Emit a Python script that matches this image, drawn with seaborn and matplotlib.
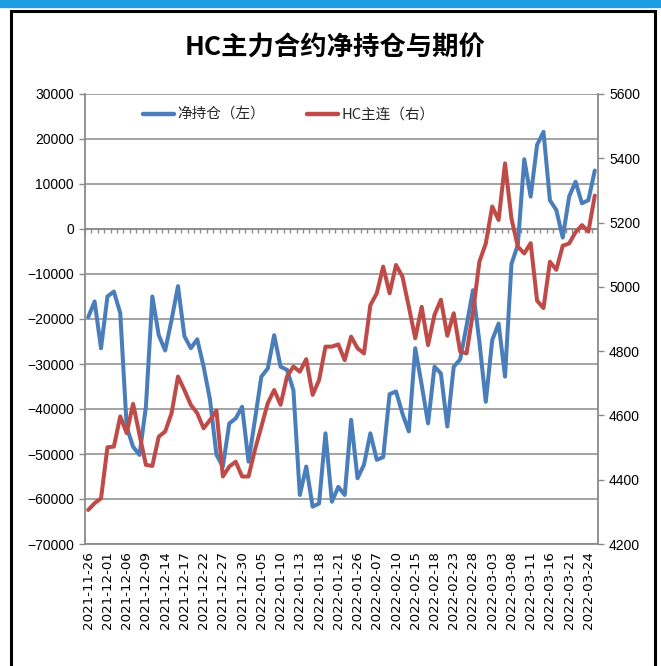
import numpy as np
import pandas as pd
import seaborn as sns
import matplotlib.pyplot as plt
from matplotlib.patches import Rectangle
from matplotlib.lines import Line2D

# ---- data ----
date_labels = ["2021-11-26", "2021-12-01", "2021-12-06", "2021-12-09", "2021-12-14",
               "2021-12-17", "2021-12-22", "2021-12-27", "2021-12-30", "2022-01-05",
               "2022-01-10", "2022-01-13", "2022-01-18", "2022-01-21", "2022-01-26",
               "2022-02-07", "2022-02-10", "2022-02-15", "2022-02-18", "2022-02-23",
               "2022-02-28", "2022-03-03", "2022-03-08", "2022-03-11", "2022-03-16",
               "2022-03-21", "2022-03-24"]

# net position (left axis)
net_pos = [-19600, -16100, -26500, -15000, -13900, -18700, -44000, -48400, -50200, -39500,
           -15000, -23600, -27000, -20200, -12700, -23800, -26500, -24500, -30600, -38000,
           -50200, -52800, -43200, -42100, -39500, -51700, -42400, -32800, -31000, -23600,
           -30600, -31300, -35800, -59100, -52800, -61700, -61000, -45400, -60600, -57300,
           -59100, -42400, -55400, -52400, -45400, -51300, -50700, -36700, -36100, -41000,
           -45000, -26500, -34600, -43200, -30600, -32100, -43900, -30600, -29000, -21500,
           -13600, -25000, -38400, -24700, -21000, -32800, -7800, -3500, 15500, 7200,
           18700, 21600, 6400, 4200, -1900, 7200, 10500, 5700, 6400, 13000]

# HC main contract price (right axis)
price = [4306, 4327, 4342, 4501, 4503, 4597, 4545, 4636, 4540, 4446,
         4443, 4534, 4550, 4607, 4721, 4679, 4633, 4607, 4560, 4586,
         4615, 4410, 4441, 4456, 4410, 4410, 4493, 4565, 4638, 4679,
         4633, 4721, 4752, 4736, 4775, 4664, 4710, 4814, 4814, 4821,
         4772, 4845, 4809, 4793, 4943, 4980, 5063, 4980, 5068, 5032,
         4938, 4840, 4938, 4819, 4913, 4960, 4848, 4918, 4799, 4793,
         4920, 5078, 5135, 5250, 5208, 5384, 5213, 5125, 5104, 5136,
         4957, 4934, 5078, 5053, 5128, 5135, 5170, 5192, 5172, 5284]

df = pd.DataFrame({"idx": np.arange(len(net_pos)), "net": net_pos, "price": price})

sns.set_theme(style="white")
plt.rcParams["font.family"] = ["Liberation Sans", "Noto Sans CJK SC"]
cjk = ["Noto Sans CJK SC", "DejaVu Sans"]

BLUE = "#4A7EBB"
RED = "#BE4B48"
GRID = "#8a8a8a"

fig = plt.figure(figsize=(6.61, 6.66), dpi=100)
fig.subplots_adjust(left=85 / 661, right=598 / 661, top=1 - 94 / 666, bottom=1 - 544 / 666)
ax = fig.add_subplot(111)
ax2 = ax.twinx()

sns.lineplot(data=df, x="idx", y="net", ax=ax, color=BLUE, lw=2.9,
             label="净持仓（左）", solid_joinstyle="round")
sns.lineplot(data=df, x="idx", y="price", ax=ax2, color=RED, lw=2.9,
             label="HC主连（右）", solid_joinstyle="round")
for a in (ax, ax2):
    if a.get_legend() is not None:
        a.get_legend().remove()
    a.set_xlabel("")
    a.set_ylabel("")

# axes ranges / ticks
ax.set_xlim(-0.5, len(net_pos) - 0.5)
ax.set_ylim(-70000, 30000)
ax.set_yticks(np.arange(-70000, 30001, 10000))
ax2.set_ylim(4200, 5600)
ax2.set_yticks(np.arange(4200, 5601, 200))
ax.set_xticks(np.arange(0, len(net_pos), 3))
ax.set_xticklabels(date_labels, rotation=90, family="DejaVu Sans", fontsize=9.6)

ax.yaxis.grid(True, color=GRID, lw=1.1)
ax.set_axisbelow(True)

# category axis crossing at 0 with small tick marks
ax.axhline(0, color=GRID, lw=1.2, zorder=1)
ax.vlines(np.arange(-0.5, len(net_pos)), -1000, 0, color=GRID, lw=1.0, zorder=1)

for s in ("top", "right"):
    ax.spines[s].set_visible(False)
for s in ("top", "left", "bottom"):
    ax2.spines[s].set_visible(False)
ax.spines["left"].set_color(GRID)
ax.spines["bottom"].set_color(GRID)
ax2.spines["right"].set_color(GRID)
for s in ("left", "bottom"):
    ax.spines[s].set_linewidth(1.3)
ax2.spines["right"].set_linewidth(1.3)

ax.tick_params(axis="y", left=True, length=4, width=1, color=GRID, labelsize=10,
               labelcolor="black", pad=4)
ax.tick_params(axis="x", length=0, pad=5, labelcolor="black")
ax2.tick_params(axis="y", right=True, length=4, width=1, color=GRID, labelsize=10,
                labelcolor="black", pad=4)

# legend
handles = [Line2D([], [], color=BLUE, lw=3.2), Line2D([], [], color=RED, lw=3.2)]
fig.legend(handles, ["净持仓（左）", "HC主连（右）"], loc="center left",
           bbox_to_anchor=(143 / 661, 1 - 115 / 666), ncol=2, frameon=False,
           prop={"family": cjk, "size": 10.5}, handlelength=2.1, handletextpad=0.25,
           columnspacing=2.9, borderpad=0, borderaxespad=0)

# title
fig.text(335 / 661, 1 - 48 / 666, "HC主力合约净持仓与期价", ha="center", va="center",
         fontsize=19, fontweight="bold", family=cjk, color="black")

# outer decoration: blue band and black frame
fig.patches.append(Rectangle((0, 1 - 7 / 666), 1, 7 / 666, transform=fig.transFigure,
                             color="#1C9FE2", zorder=0))
fig.patches.append(Rectangle((11 / 661, -0.05), (655 - 11) / 661, (666 - 11) / 666 + 0.05,
                             transform=fig.transFigure, fill=False, ec="black", lw=2.2,
                             zorder=0))

fig.savefig("out.png", dpi=100, facecolor="white")
